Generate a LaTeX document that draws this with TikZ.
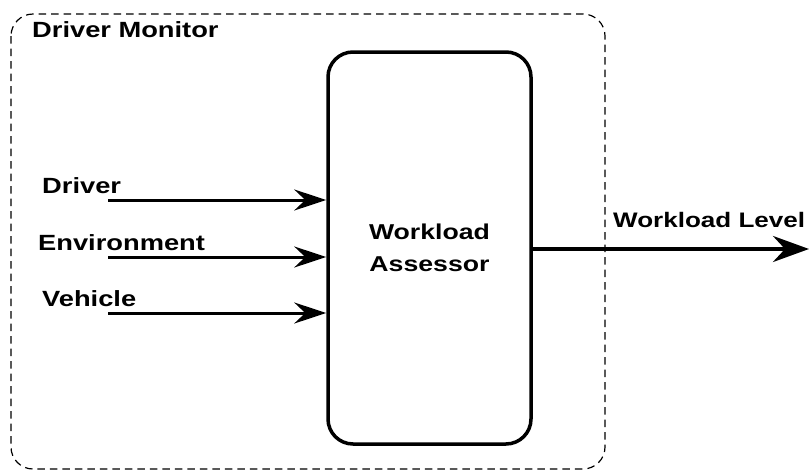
\documentclass[tikz,border=0pt]{standalone}
\usepackage{fontspec}
\setmainfont{Liberation Sans}[FakeStretch=1.24]
\usetikzlibrary{arrows.meta}

\tikzset{
  lbl/.style={font=\fontsize{22}{32}\selectfont\bfseries, inner sep=0pt, anchor=base west},
  inarrow/.style={line width=3pt, -{Stealth[length=32pt,width=21pt,inset=11pt]}},
  outarrow/.style={line width=4pt, -{Stealth[length=36pt,width=26pt,inset=12pt]}},
}

\begin{document}
\begin{tikzpicture}[x=1pt,y=-1pt]
  \useasboundingbox (0,0) rectangle (809,472);

  % dashed frame of the monitor
  \draw[line width=1.2pt, dash pattern=on 7.5pt off 5pt, rounded corners=22pt]
    (11,14) rectangle (605,469);
  \node[lbl] (title) at (32,37) {Driver Monitor};

  % central assessor block
  \node[draw, line width=3.5pt, rounded corners=25pt, minimum width=203pt,
        minimum height=392pt, align=center,
        font=\fontsize{21.5}{32}\selectfont\bfseries] (wa) at (429.5,248)
        {Workload\\Assessor};

  % inputs
  \node[lbl] (ldrv) at (42,193) {Driver};
  \node[lbl] (lenv) at (38,250) {Environment};
  \node[lbl] (lveh) at (42,306) {Vehicle};

  \coordinate (sdrv) at (108,200);
  \coordinate (senv) at (108,257);
  \coordinate (sveh) at (108,313);

  \draw[inarrow] (sdrv) -- (sdrv -| wa.west);
  \draw[inarrow] (senv) -- (senv -| wa.west);
  \draw[inarrow] (sveh) -- (sveh -| wa.west);

  % output
  \coordinate (eout) at (809,249);
  \draw[outarrow] (wa.east |- eout) -- (eout);
  \node[lbl, font=\fontsize{21}{32}\selectfont\bfseries] (lout) at (613,227) {Workload Level};
\end{tikzpicture}
\end{document}
